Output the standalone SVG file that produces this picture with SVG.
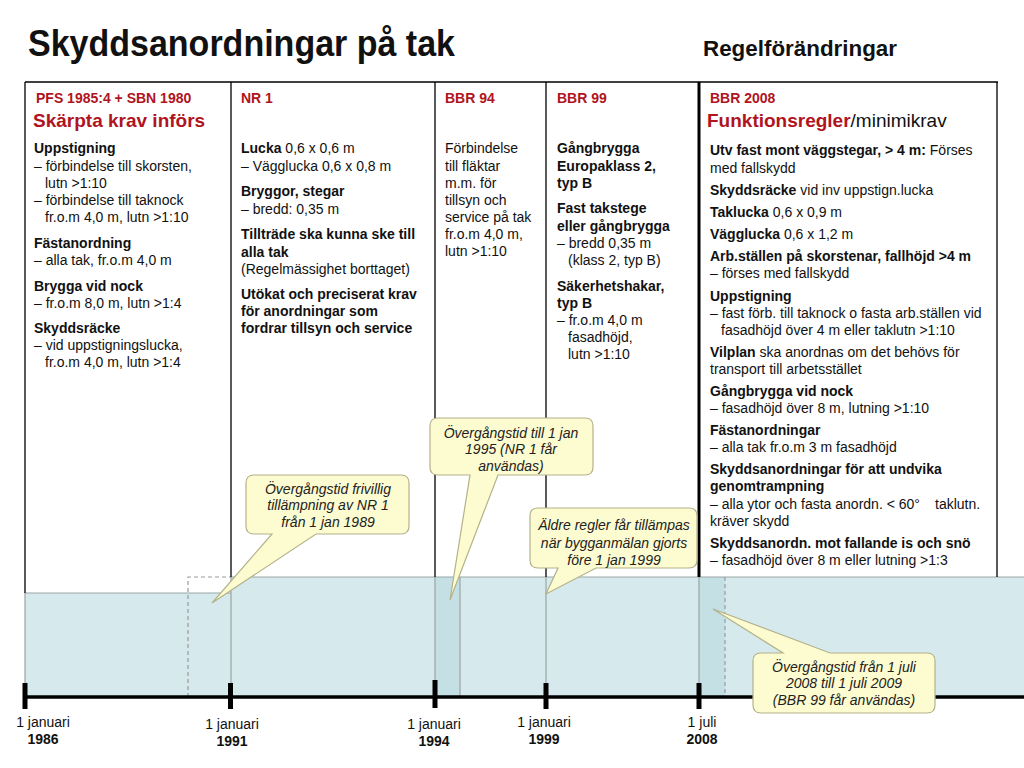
<svg xmlns="http://www.w3.org/2000/svg" width="1024" height="768" viewBox="0 0 1024 768">
<style>
text{font-family:"Liberation Sans",Arial,sans-serif;font-size:14px;fill:#111}
.b{font-weight:bold}
.hd{font-weight:bold;fill:#b0141e}
.big{font-size:19px;font-weight:bold;fill:#b0141e}
.ct{font-style:italic;text-anchor:middle;fill:#222}
.lb{text-anchor:middle}
.frame{stroke:#000;stroke-width:1.3;fill:none}
.gl{stroke:#9aa4a6;stroke-width:1.2;fill:none}
.co{fill:#fdfbd0;stroke:#b3b28a;stroke-width:1.2}
.tick{fill:#000}
</style>
<rect width="1024" height="768" fill="#fff"/>
<text x="28" y="56" class="b" style="font-size:36px;font-family:'Liberation Sans Narrow','Liberation Sans',Arial,sans-serif" textLength="427" lengthAdjust="spacingAndGlyphs">Skyddsanordningar på tak</text>
<text x="703" y="56" class="b" style="font-size:22px;font-family:'Liberation Sans Narrow','Liberation Sans',Arial,sans-serif" textLength="194" lengthAdjust="spacingAndGlyphs">Regelförändringar</text>

<g id="band">
<rect x="25" y="593" width="206" height="104" fill="#d6eaee"/>
<rect x="231" y="577" width="793" height="120" fill="#d6eaee"/>
<rect x="435" y="577" width="25" height="120" fill="#c4e0e5"/>
<rect x="699" y="577" width="26" height="120" fill="#c4e0e5"/>
<path class="gl" d="M25,697 V593 H231 M231,577 H1024 M231,577 V697 M435,577 V697 M460,577 V697 M546,577 V697 M699,577 V697"/>
<path d="M188,697 V577 H231" fill="none" stroke="#999" stroke-width="1.2" stroke-dasharray="4,3"/>
<path d="M725,577 V697" fill="none" stroke="#999" stroke-width="1.2" stroke-dasharray="4,3"/>
</g>

<g id="connectors">
<path class="frame" d="M25,82 H998 M25,82 V593 M231,82 V577 M435,82 V577 M546,82 V577 M997,82 V577"/>
<path d="M699,82 V577" stroke="#000" stroke-width="3" fill="none"/>
<path d="M25,697 H1024" stroke="#000" stroke-width="3.5" fill="none"/>
<rect class="tick" x="22.5" y="683" width="5" height="26"/>
<rect class="tick" x="228" y="683" width="5" height="26"/>
<rect class="tick" x="432.5" y="680" width="5" height="28"/>
<rect class="tick" x="543.5" y="683" width="5" height="26"/>
<rect class="tick" x="696.5" y="683" width="5" height="26"/>
</g>

<g id="col-pfs">
<text x="36" y="103" class="hd">PFS 1985:4 + SBN 1980</text>
<text x="33" y="127" class="big">Skärpta krav införs</text>
<text x="34" y="153" class="b">Uppstigning</text>
<text x="34" y="171">– förbindelse till skorsten,</text>
<text x="45" y="188">lutn &gt;1:10</text>
<text x="34" y="205">– förbindelse till taknock</text>
<text x="45" y="222">fr.o.m 4,0 m, lutn &gt;1:10</text>
<text x="34" y="248" class="b">Fästanordning</text>
<text x="34" y="265">– alla tak, fr.o.m 4,0 m</text>
<text x="34" y="291" class="b">Brygga vid nock</text>
<text x="34" y="308">– fr.o.m 8,0 m, lutn &gt;1:4</text>
<text x="34" y="333" class="b">Skyddsräcke</text>
<text x="34" y="350">– vid uppstigningslucka,</text>
<text x="45" y="367">fr.o.m 4,0 m, lutn &gt;1:4</text>
</g>

<g id="col-nr1">
<text x="241" y="103" class="hd">NR 1</text>
<text x="241" y="153"><tspan class="b">Lucka</tspan> 0,6 x 0,6 m</text>
<text x="241" y="171">– Vägglucka 0,6 x 0,8 m</text>
<text x="241" y="196" class="b">Bryggor, stegar</text>
<text x="241" y="214">– bredd: 0,35 m</text>
<text x="241" y="239" class="b">Tillträde ska kunna ske till</text>
<text x="241" y="257" class="b">alla tak</text>
<text x="241" y="274">(Regelmässighet borttaget)</text>
<text x="241" y="299" class="b">Utökat och preciserat krav</text>
<text x="241" y="316" class="b">för anordningar som</text>
<text x="241" y="333" class="b">fordrar tillsyn och service</text>
</g>

<g id="col-bbr94">
<text x="445" y="103" class="hd">BBR 94</text>
<text x="445" y="153">Förbindelse</text>
<text x="445" y="171">till fläktar</text>
<text x="445" y="188">m.m. för</text>
<text x="445" y="205">tillsyn och</text>
<text x="445" y="222">service på tak</text>
<text x="445" y="239">fr.o.m 4,0 m,</text>
<text x="445" y="256">lutn &gt;1:10</text>
</g>

<g id="col-bbr99">
<text x="557" y="103" class="hd">BBR 99</text>
<text x="557" y="153" class="b">Gångbrygga</text>
<text x="557" y="171" class="b">Europaklass 2,</text>
<text x="557" y="188" class="b">typ B</text>
<text x="557" y="213" class="b">Fast takstege</text>
<text x="557" y="231" class="b">eller gångbrygga</text>
<text x="557" y="248">– bredd 0,35 m</text>
<text x="568" y="265">(klass 2, typ B)</text>
<text x="557" y="291" class="b">Säkerhetshakar,</text>
<text x="557" y="308" class="b">typ B</text>
<text x="557" y="325">– fr.o.m 4,0 m</text>
<text x="568" y="342">fasadhöjd,</text>
<text x="568" y="359">lutn &gt;1:10</text>
</g>

<g id="col-bbr2008">
<text x="710" y="103" class="hd">BBR 2008</text>
<text x="707" y="127" style="font-size:19px"><tspan class="big">Funktionsregler</tspan>/minimikrav</text>
<text x="710" y="155"><tspan class="b">Utv fast mont väggstegar, &gt; 4 m:</tspan> Förses</text>
<text x="710" y="173">med fallskydd</text>
<text x="710" y="195"><tspan class="b">Skyddsräcke</tspan> vid inv uppstign.lucka</text>
<text x="710" y="217"><tspan class="b">Taklucka</tspan> 0,6 x 0,9 m</text>
<text x="710" y="239"><tspan class="b">Vägglucka</tspan> 0,6 x 1,2 m</text>
<text x="710" y="261" class="b">Arb.ställen på skorstenar, fallhöjd &gt;4 m</text>
<text x="710" y="278">– förses med fallskydd</text>
<text x="710" y="301" class="b">Uppstigning</text>
<text x="710" y="318">– fast förb. till taknock o fasta arb.ställen vid</text>
<text x="721" y="335">fasadhöjd över 4 m eller taklutn &gt;1:10</text>
<text x="710" y="357"><tspan class="b">Vilplan</tspan> ska anordnas om det behövs för</text>
<text x="710" y="374">transport till arbetsstället</text>
<text x="710" y="396" class="b">Gångbrygga vid nock</text>
<text x="710" y="413">– fasadhöjd över 8 m, lutning &gt;1:10</text>
<text x="710" y="435" class="b">Fästanordningar</text>
<text x="710" y="452">– alla tak fr.o.m 3 m fasadhöjd</text>
<text x="710" y="474" class="b">Skyddsanordningar för att undvika</text>
<text x="710" y="491" class="b">genomtrampning</text>
<text x="710" y="509">– alla ytor och fasta anordn. &lt; 60°<tspan x="935">taklutn.</tspan></text>
<text x="710" y="526">kräver skydd</text>
<text x="710" y="548" class="b">Skyddsanordn. mot fallande is och snö</text>
<text x="710" y="565">– fasadhöjd över 8 m eller lutning &gt;1:3</text>
</g>

<g id="callout-1989">
<path class="co" d="M254,475 H401 Q409,475 409,483 V526 Q409,534 401,534 H316 L212,603 L272,534 H254 Q246,534 246,526 V483 Q246,475 254,475 Z"/>
<text x="328" y="494" class="ct">Övergångstid frivillig</text>
<text x="328" y="510" class="ct">tillämpning av NR 1</text>
<text x="328" y="527" class="ct">från 1 jan 1989</text>
</g>

<g id="callout-1995">
<path class="co" d="M438,418 H585 Q593,418 593,426 V467 Q593,475 585,475 H498 L450,600 L470,475 H438 Q430,475 430,467 V426 Q430,418 438,418 Z"/>
<text x="511" y="438" class="ct">Övergångstid till 1 jan</text>
<text x="511" y="454" class="ct">1995 (NR 1 får</text>
<text x="511" y="471" class="ct">användas)</text>
</g>

<g id="callout-1999">
<path class="co" d="M538,508 H689 Q697,508 697,516 V560 Q697,568 689,568 H596 L546,594 L558,568 H538 Q530,568 530,560 V516 Q530,508 538,508 Z"/>
<text x="614" y="530" class="ct">Äldre regler får tillämpas</text>
<text x="614" y="548" class="ct">när bygganmälan gjorts</text>
<text x="614" y="565" class="ct">före 1 jan 1999</text>
</g>

<g id="callout-2008">
<path class="co" d="M761,653 H783 L713,609 L830,653 H927 Q935,653 935,661 V705 Q935,713 927,713 H761 Q753,713 753,705 V661 Q753,653 761,653 Z"/>
<text x="844" y="672" class="ct">Övergångstid från 1 juli</text>
<text x="844" y="688" class="ct">2008 till 1 juli 2009</text>
<text x="844" y="705" class="ct">(BBR 99 får användas)</text>
</g>

<g id="date-1986"><text x="43" y="727" class="lb">1 januari</text><text x="43" y="744" class="lb b">1986</text></g>
<g id="date-1991"><text x="232" y="729" class="lb">1 januari</text><text x="232" y="746" class="lb b">1991</text></g>
<g id="date-1994"><text x="434" y="729" class="lb">1 januari</text><text x="434" y="746" class="lb b">1994</text></g>
<g id="date-1999"><text x="544" y="727" class="lb">1 januari</text><text x="544" y="744" class="lb b">1999</text></g>
<g id="date-2008"><text x="702" y="727" class="lb">1 juli</text><text x="702" y="744" class="lb b">2008</text></g>
</svg>
